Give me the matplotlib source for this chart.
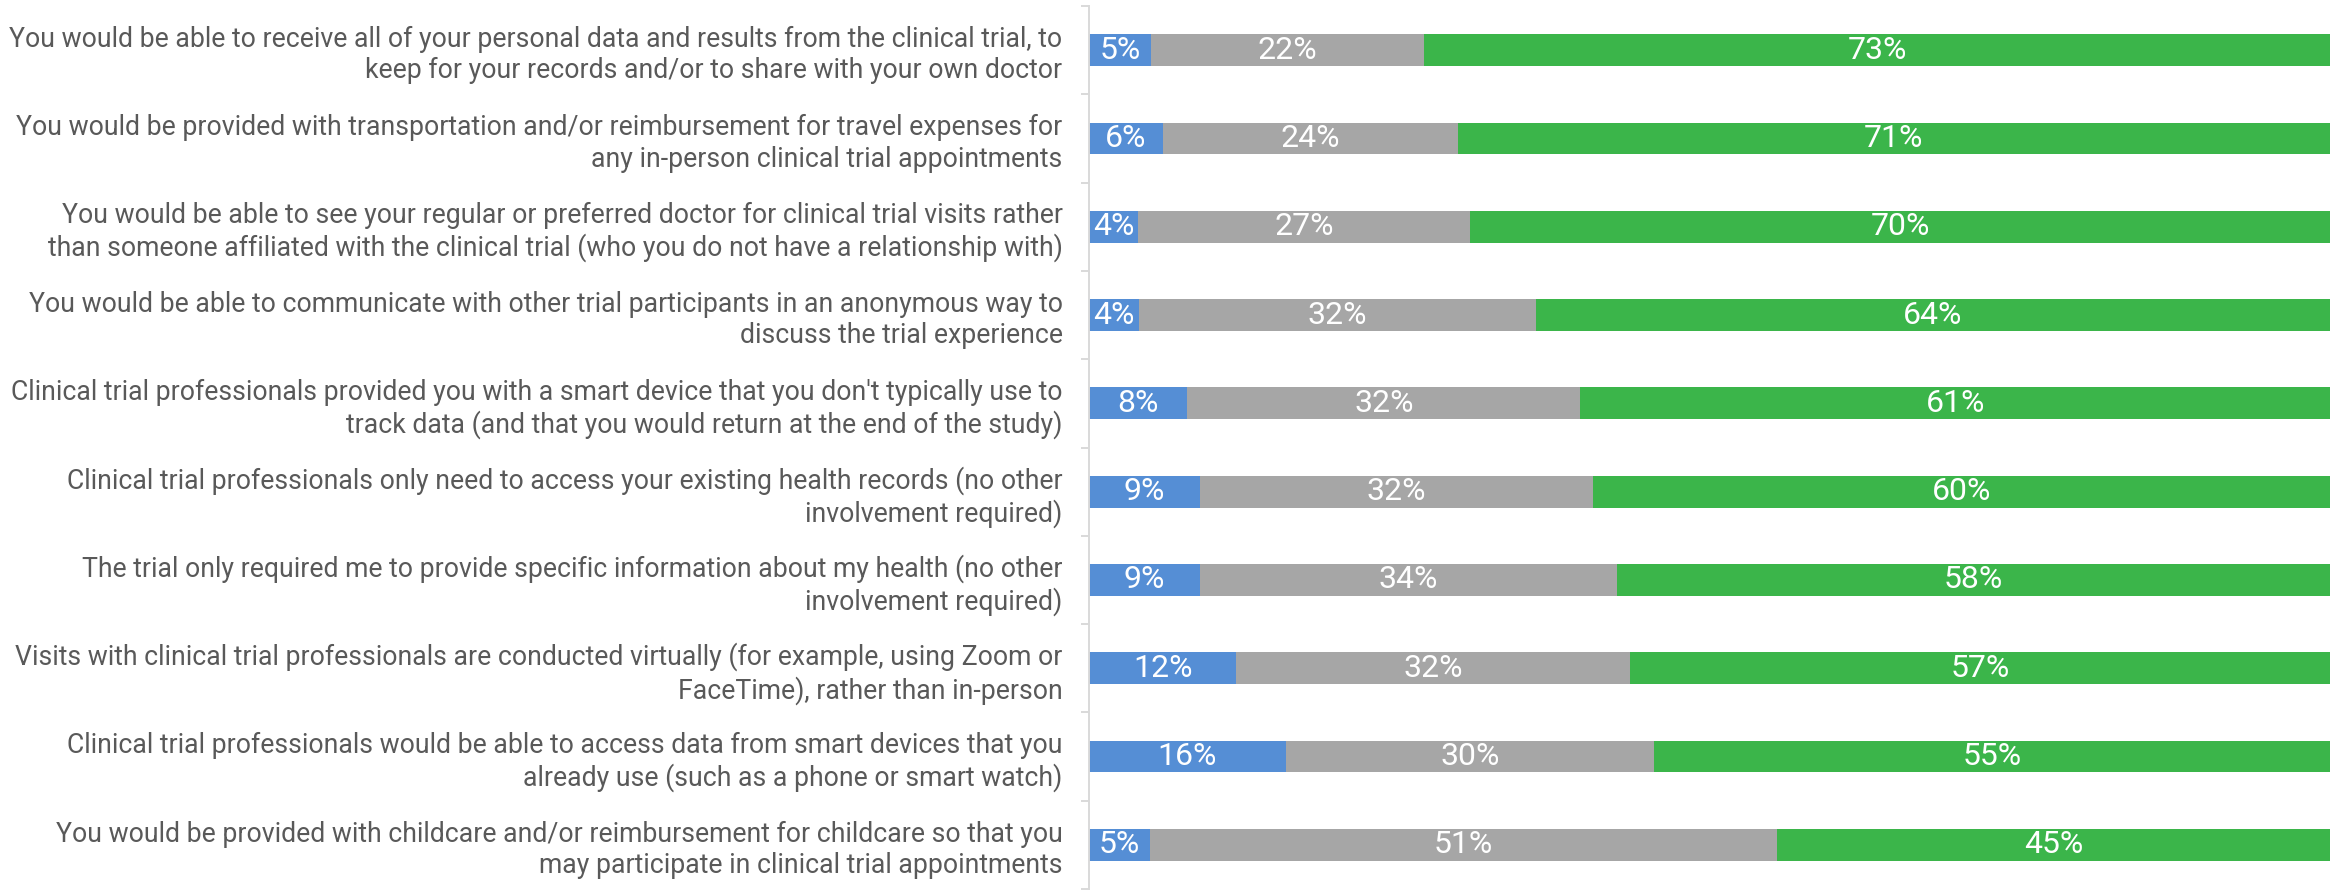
import matplotlib
matplotlib.use("Agg")
import matplotlib.pyplot as plt
import numpy as np

plt.rcParams["font.family"] = ["Roboto", "DejaVu Sans"]

statements = [
    "You would be able to receive all of your personal data and results from the clinical trial, to\nkeep for your records and/or to share with your own doctor",
    "You would be provided with transportation and/or reimbursement for travel expenses for\nany in-person clinical trial appointments",
    "You would be able to see your regular or preferred doctor for clinical trial visits rather\nthan someone affiliated with the clinical trial (who you do not have a relationship with)",
    "You would be able to communicate with other trial participants in an anonymous way to\ndiscuss the trial experience",
    "Clinical trial professionals provided you with a smart device that you don't typically use to\ntrack data (and that you would return at the end of the study)",
    "Clinical trial professionals only need to access your existing health records (no other\ninvolvement required)",
    "The trial only required me to provide specific information about my health (no other\ninvolvement required)",
    "Visits with clinical trial professionals are conducted virtually (for example, using Zoom or\nFaceTime), rather than in-person",
    "Clinical trial professionals would be able to access data from smart devices that you\nalready use (such as a phone or smart watch)",
    "You would be provided with childcare and/or reimbursement for childcare so that you\nmay participate in clinical trial appointments",
]

less_likely = [5, 6, 4, 4, 8, 9, 9, 12, 16, 5]
no_difference = [22, 24, 27, 32, 32, 32, 34, 32, 30, 51]
more_likely = [73, 71, 70, 64, 61, 60, 58, 57, 55, 45]

series = [less_likely, no_difference, more_likely]
colors = ["#558ed5", "#a6a6a6", "#3bb54a"]

W, H, DPI = 2341, 891, 100
fig = plt.figure(figsize=(W / DPI, H / DPI), dpi=DPI)
ax = fig.add_axes([1089 / W, 1 - 889 / H, (2330 - 1089) / W, (889 - 6) / H])

vals = np.array(series, dtype=float)
totals = vals.sum(axis=0)
shares = vals / totals * 100  # 100% stacked bars

y = np.arange(len(statements))
left = np.zeros(len(statements))
for s_vals, s_share, col in zip(vals, shares, colors):
    ax.barh(y, s_share, left=left, height=0.36, color=col, edgecolor="none")
    for yi, l, w, v in zip(y, left, s_share, s_vals):
        ax.text(l + w / 2, yi, f"{int(v)}%", ha="center", va="center",
                color="white", fontsize=23, fontweight="normal")
    left = left + s_share

ax.set_xlim(0, 100)
ax.set_ylim(len(statements) - 0.5, -0.5)

ax.set_yticks(y)
ax.set_yticklabels(statements, fontsize=19.2, color="#595959", linespacing=1.2)
ax.tick_params(axis="y", which="major", length=0, pad=19)
ax.set_yticks(np.arange(-0.5, len(statements) + 0.5, 1), minor=True)
ax.tick_params(axis="y", which="minor", length=6, width=1.4, color="#d9d9d9")

ax.set_xticks([])
for side in ["top", "right", "bottom"]:
    ax.spines[side].set_visible(False)
ax.spines["left"].set_color("#d9d9d9")
ax.spines["left"].set_linewidth(1.4)

fig.savefig("out.png", dpi=DPI)
